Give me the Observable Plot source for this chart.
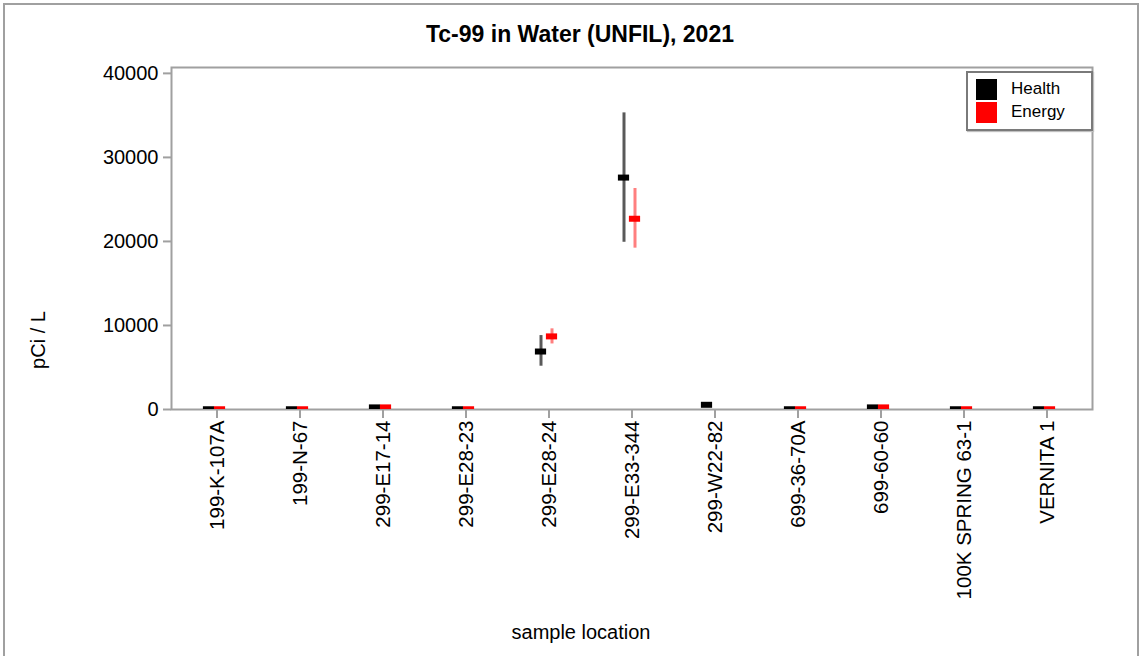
<!DOCTYPE html>
<html>
<head>
<meta charset="utf-8">
<script src="https://cdn.jsdelivr.net/npm/d3@7"></script>
<script src="https://cdn.jsdelivr.net/npm/@observablehq/plot@0.6"></script>
<style>
  html, body { margin: 0; padding: 0; background: #fff; }
  #wrap { position: relative; width: 1142px; height: 656px; font-family: "Liberation Sans", Arial, sans-serif; overflow: hidden; }
  #wrap svg { position: absolute; left: 0; top: 0; }
  .border { position: absolute; left: 3px; top: 3px; width: 1136px; height: 700px; border: 2px solid #a0a0a0; box-sizing: border-box; }
  .title { position: absolute; left: 0; width: 1160px; top: 21px; text-align: center; font-weight: bold; font-size: 23px; color: #000; }
  .xlabel { position: absolute; left: 171px; width: 820px; top: 621px; text-align: center; font-size: 20px; color: #000; }
  .ylabel { position: absolute; left: 38px; top: 340px; transform: translate(-50%, -50%) rotate(-90deg); font-size: 20px; white-space: nowrap; color: #000; }
  .legend { position: absolute; left: 966px; top: 71px; width: 127px; height: 60px; border: 2px solid #7a7a7a; box-sizing: border-box; background: #fff; box-shadow: 1px 1px 1px #c0c0c0; }
  .legend .row { position: absolute; left: 8px; height: 22px; display: flex; align-items: center; font-size: 17px; }
  .legend .sw { width: 21px; height: 21px; margin-right: 14px; }
</style>
</head>
<body>
<div id="wrap"></div>
<script>
// Data
const locations = ["199-K-107A", "199-N-67", "299-E17-14", "299-E28-23", "299-E28-24", "299-E33-344", "299-W22-82", "699-36-70A", "699-60-60", "100K SPRING 63-1", "VERNITA 1"];
const healthValue = [30, 30, 250, 30, 6900, 27600, 560, 30, 250, 30, 30];
const healthLow   = [0, 0, 150, 0, 5150, 19900, 480, 0, 150, 0, 0];
const healthHigh  = [60, 60, 350, 60, 8800, 35300, 640, 60, 350, 60, 60];
const energyValue = [30, 30, 250, 30, 8700, 22700, null, 30, 250, 30, 30];
const energyLow   = [0, 0, 150, 0, 7800, 19200, null, 0, 150, 0, 0];
const energyHigh  = [60, 60, 350, 60, 9600, 26300, null, 60, 350, 60, 60];
const series = ["Health", "Energy"];
const seriesColors = ["#000000", "#ff0000"];
const yTicks = [0, 10000, 20000, 30000, 40000];

const health = locations.map((loc, i) => ({loc, v: healthValue[i], lo: healthLow[i], hi: healthHigh[i]}));
const energy = locations.map((loc, i) => ({loc, v: energyValue[i], lo: energyLow[i], hi: energyHigh[i]})).filter(d => d.v != null);

const inset = 35.9;
const chart = Plot.plot({
  width: 1142,
  height: 656,
  marginLeft: 171,
  marginRight: 50,
  marginTop: 67,
  marginBottom: 247,
  style: {fontFamily: "Liberation Sans, Arial, sans-serif", fontSize: "20px", background: "transparent", color: "#000"},
  x: {type: "band", domain: locations, paddingInner: 0, paddingOuter: 0, axis: null},
  y: {domain: [0, 40700], axis: null},
  marks: [
    Plot.axisY({ticks: yTicks, tickFormat: d3.format("d"), tickSize: 8, tickPadding: 5, stroke: "#a0a0a0", strokeWidth: 2, fill: "#000", label: null, fontSize: 20}),
    Plot.axisX({tickRotate: -90, tickSize: 9, tickPadding: 2, stroke: "#a0a0a0", strokeWidth: 2, fill: "#000", label: null, fontSize: 20.5}),
    Plot.frame({stroke: "#a0a0a0", strokeWidth: 2}),
    Plot.ruleX(health, {x: "loc", y1: "lo", y2: "hi", dx: -8, stroke: seriesColors[0], strokeOpacity: 0.65, strokeWidth: 3, clip: true}),
    Plot.ruleX(energy, {x: "loc", y1: "lo", y2: "hi", dx: 3, stroke: seriesColors[1], strokeOpacity: 0.5, strokeWidth: 3, clip: true}),
    Plot.tickY(health, {x: "loc", y: "v", dx: -8, insetLeft: inset, insetRight: inset, stroke: seriesColors[0], strokeWidth: 6, clip: true}),
    Plot.tickY(energy, {x: "loc", y: "v", dx: 3, insetLeft: inset, insetRight: inset, stroke: seriesColors[1], strokeWidth: 6, clip: true})
  ]
});

const wrap = document.getElementById("wrap");
wrap.innerHTML = `
  <div class="border"></div>
  <div class="title">Tc-99 in Water (UNFIL), 2021</div>
  <div class="ylabel">pCi / L</div>
  <div class="xlabel">sample location</div>
`;
wrap.appendChild(chart);
const legend = document.createElement("div");
legend.className = "legend";
series.forEach((s, i) => {
  const row = document.createElement("div");
  row.className = "row";
  row.style.top = (5 + i * 23) + "px";
  row.innerHTML = `<div class="sw" style="background:${seriesColors[i]}"></div><span>${s}</span>`;
  legend.appendChild(row);
});
wrap.appendChild(legend);
</script>
</body>
</html>
